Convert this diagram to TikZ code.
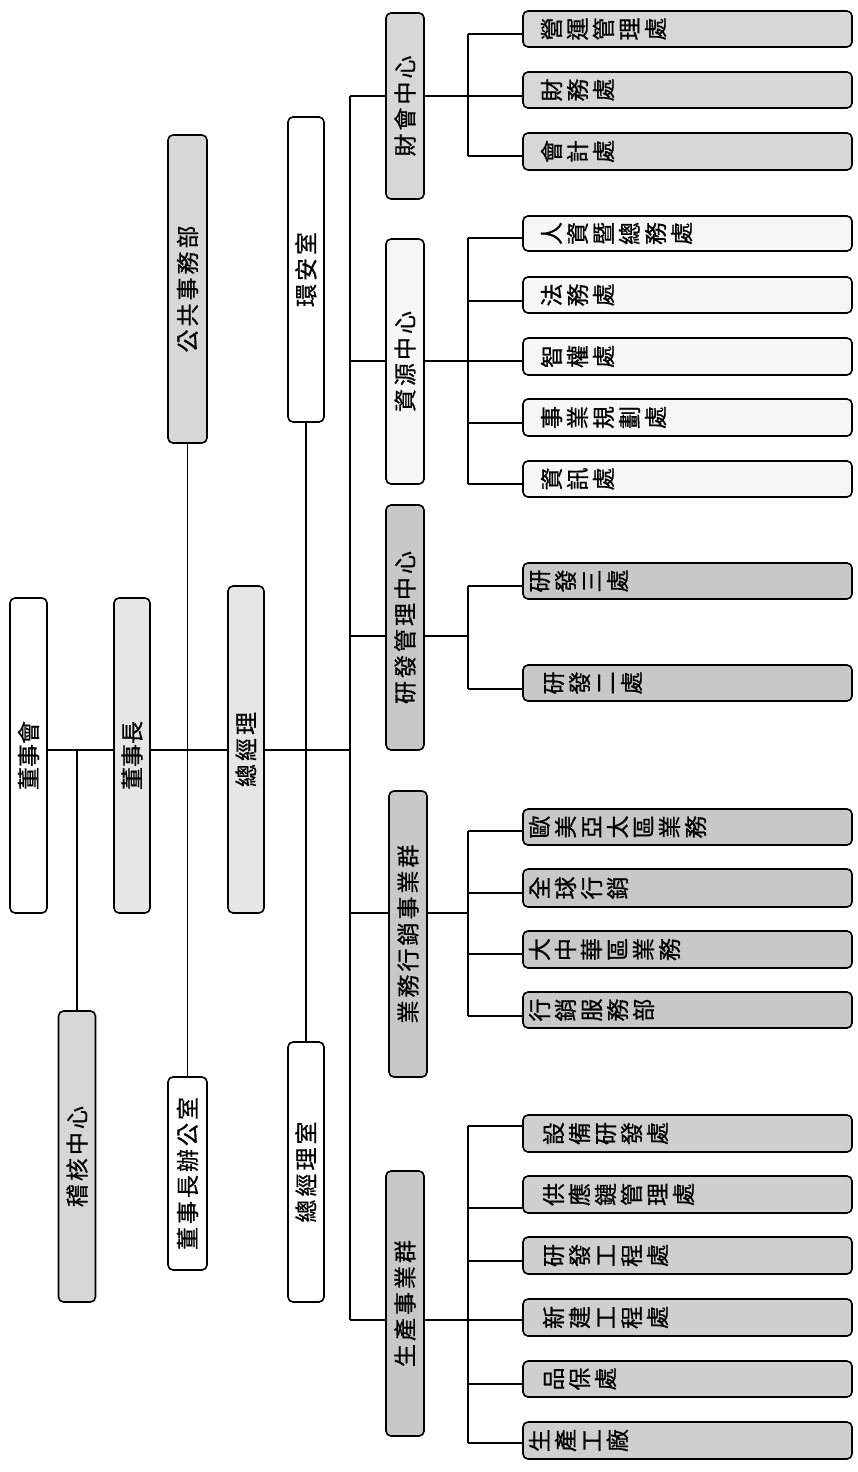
\documentclass[tikz,border=0pt]{standalone}
\usepackage{fontspec}
\setmainfont{Noto Sans CJK TC}[FakeBold=0.6]
\usepackage{graphicx}
\definecolor{gA}{HTML}{E6E6E6}
\definecolor{gB}{HTML}{D7D7D7}
\definecolor{gC}{HTML}{C8C8C8}
\definecolor{gD}{HTML}{F6F6F6}
\definecolor{gE}{HTML}{CFCFCF}
\newlength\rcgap
\setlength\rcgap{3pt}
\makeatletter
\newcommand\rchars[1]{\@tfor\rc@tok:=#1\do{\rotatebox{90}{\rule[-0.12em]{0pt}{1em}\rc@tok}\hspace{\rcgap}}}
\newcommand\schars[1]{\@tfor\rc@tok:=#1\do{\rc@tok\hspace{\rcgap}}\hspace{-\rcgap}}
\makeatother
\newcommand\midtext[1]{\rotatebox{90}{\rule[-0.12em]{0pt}{1em}\schars{#1}}}
\newcommand\lt[2]{\makebox[329pt][l]{\hspace*{#1}\rchars{#2}}}
\begin{document}
\begin{tikzpicture}[x=1pt,y=-1pt,
  box/.style={draw=black, line width=1.6pt, rounded corners=5pt, inner sep=0pt,
    font=\fontsize{23pt}{27pt}\selectfont},
  leaf/.style={box, minimum width=329pt, minimum height=36pt},
  midbox/.style={box, minimum width=38pt},
  wire/.style={line width=1.6pt}]
\useasboundingbox (0,0) rectangle (857,1472);
% ---- left column ----
\node[box, fill=white, minimum width=37pt, minimum height=315pt] (board) at (28.5,755.5) {\rotatebox{90}{\rule[-0.12em]{0pt}{1em}董事會}};
\node[box, fill=gA, minimum width=36pt, minimum height=315pt] (chair) at (132,755.5) {\rotatebox{90}{\rule[-0.12em]{0pt}{1em}董事長}};
\node[box, fill=gA, minimum width=36pt, minimum height=327pt] (gm) at (246,749.5) {\midtext{總經理}};
\node[box, fill=gB, minimum width=37pt, minimum height=291pt] (audit) at (77,1156.5) {\midtext{稽核中心}};
\node[box, fill=gB, minimum width=39pt, minimum height=308pt] (pr) at (187.5,289) {\midtext{公共事務部}};
\node[box, fill=white, minimum width=39pt, minimum height=193pt] (chairoff) at (187.5,1173.5) {\midtext{董事長辦公室}};
\node[box, fill=white, minimum width=36pt, minimum height=305pt] (esh) at (306,269.5) {\midtext{環安室}};
\node[box, fill=white, minimum width=36pt, minimum height=260pt] (gmo) at (306,1172) {\midtext{總經理室}};
% ---- middle column ----
\node[midbox, fill=gB, minimum height=186pt] (fin) at (405,106) {\midtext{財會中心}};
\node[midbox, fill=gD, minimum height=245pt] (res) at (405,361.5) {\midtext{資源中心}};
\node[midbox, fill=gC, minimum height=245pt] (rd) at (405,627.5) {\midtext{研發管理中心}};
\node[midbox, fill=gC, minimum height=286pt] (sales) at (408,934) {\midtext{業務行銷事業群}};
\node[midbox, fill=gC, minimum height=265pt] (prod) at (405,1303.5) {\midtext{生產事業群}};
% ---- leaves ----
\node[leaf, fill=gB] (f1) at (687.5,29) {\lt{17pt}{營運管理處}};
\node[leaf, fill=gB] (f2) at (687.5,90) {\lt{17pt}{財務處}};
\node[leaf, fill=gB, minimum height=37pt] (f3) at (687.5,151.5) {\lt{17pt}{會計處}};
\node[leaf, fill=gD, minimum height=35pt] (r1) at (687.5,233.5) {\lt{17pt}{人資暨總務處}};
\node[leaf, fill=gD] (r2) at (687.5,295) {\lt{17pt}{法務處}};
\node[leaf, fill=gD, minimum height=37pt] (r3) at (687.5,356.5) {\lt{17pt}{智權處}};
\node[leaf, fill=gD, minimum height=37pt] (r4) at (687.5,417.5) {\lt{17pt}{事業規劃處}};
\node[leaf, fill=gD] (r5) at (687.5,479) {\lt{17pt}{資訊處}};
\node[leaf, fill=gC] (d1) at (687.5,581) {\lt{5pt}{研發三處}};
\node[leaf, fill=gC] (d2) at (687.5,683) {\lt{19pt}{研發二處}};
\node[leaf, fill=gC] (s1) at (687.5,827) {\lt{5pt}{歐美亞太區業務}};
\node[leaf, fill=gC, minimum height=38pt] (s2) at (687.5,888) {\lt{5pt}{全球行銷}};
\node[leaf, fill=gC, minimum height=37pt] (s3) at (687.5,949.5) {\lt{5pt}{大中華區業務}};
\node[leaf, fill=gC] (s4) at (687.5,1010) {\lt{5pt}{行銷服務部}};
\node[leaf, fill=gE, minimum height=37pt] (p1) at (687.5,1133.5) {\lt{19pt}{設備研發處}};
\node[leaf, fill=gE, minimum height=37pt] (p2) at (687.5,1194.5) {\lt{19pt}{供應鏈管理處}};
\node[leaf, fill=gE, minimum height=37pt] (p3) at (687.5,1255.5) {\lt{19pt}{研發工程處}};
\node[leaf, fill=gE, minimum height=37pt] (p4) at (687.5,1317.5) {\lt{19pt}{新建工程處}};
\node[leaf, fill=gE] (p5) at (687.5,1379) {\lt{19pt}{品保處}};
\node[leaf, fill=gE, minimum height=37pt] (p6) at (687.5,1440.5) {\lt{5pt}{生產工廠}};
% ---- top-level connectors ----
\coordinate (h0) at (0,750);
\coordinate (jF) at (350,96);
\coordinate (jR) at (350,361);
\coordinate (jD) at (350,636);
\coordinate (jS) at (350,913);
\coordinate (jP) at (350,1320);
\draw[wire] (board.east |- h0) -- (chair.west |- h0);
\draw[wire] (chair.east |- h0) -- (gm.west |- h0);
\draw[wire] (gm.east |- h0) -- (h0 -| jF);
\draw[wire] (audit.north) -- (audit.north |- h0);
\draw[wire] (pr.south) -- (chairoff.north);
\draw[wire] (esh.south) -- (gmo.north);
\draw[wire] (jF) -- (jP);
\draw[wire] (jF) -- (jF -| fin.west);
\draw[wire] (jR) -- (jR -| res.west);
\draw[wire] (jD) -- (jD -| rd.west);
\draw[wire] (jS) -- (jS -| sales.west);
\draw[wire] (jP) -- (jP -| prod.west);
% ---- leaf connectors ----
\newcommand\lk[2]{\coordinate (#1c) at (468,#2); \draw[wire] (#1c) -- (#1c -| #1.west);}
\lk{f1}{34}\lk{f2}{96}\lk{f3}{156}
\lk{r1}{238}\lk{r2}{301}\lk{r3}{361}\lk{r4}{423}\lk{r5}{484}
\lk{d1}{586}\lk{d2}{689}
\lk{s1}{831}\lk{s2}{893}\lk{s3}{954}\lk{s4}{1016}
\lk{p1}{1126}\lk{p2}{1208}\lk{p3}{1261}\lk{p4}{1320}\lk{p5}{1384}\lk{p6}{1443}
\draw[wire] (f1c) -- (f3c);
\draw[wire] (r1c) -- (r5c);
\draw[wire] (d1c) -- (d2c);
\draw[wire] (s1c) -- (s4c);
\draw[wire] (p1c) -- (p6c);
\draw[wire] (jF -| fin.east) -- (f2c);
\draw[wire] (jR -| res.east) -- (r3c);
\draw[wire] (jD -| rd.east) -- (jD -| d1c);
\draw[wire] (jS -| sales.east) -- (jS -| s1c);
\draw[wire] (jP -| prod.east) -- (p4c);
\end{tikzpicture}
\end{document}
